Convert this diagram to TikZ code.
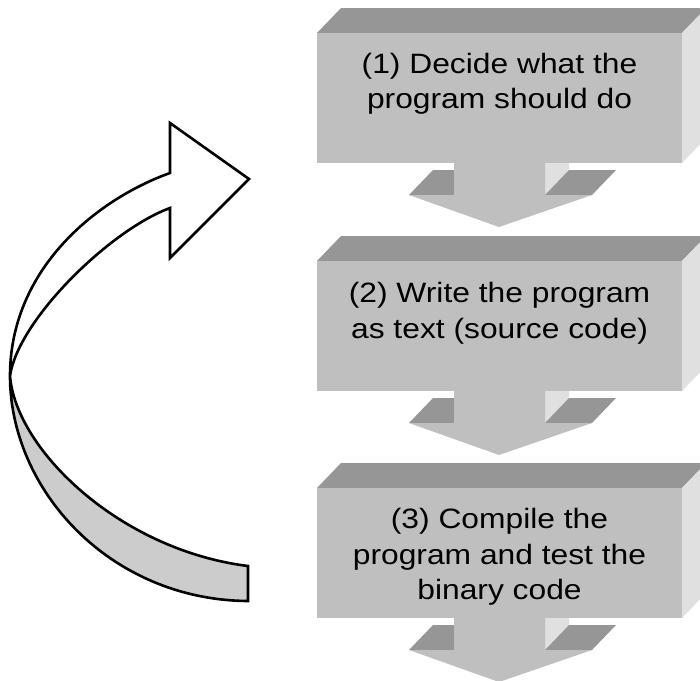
\documentclass[tikz,border=0pt]{standalone}
\usepackage{fontspec}
\setmainfont{Liberation Sans}
\definecolor{boxfront}{gray}{0.75}
\definecolor{boxtop}{gray}{0.59}
\definecolor{boxside}{gray}{0.88}
\definecolor{ribbonback}{gray}{0.80}
\tikzset{
  frontface/.style={fill=boxfront},
  topface/.style={fill=boxtop},
  sideface/.style={fill=boxside},
  % anchored at the baseline of the last line
  steplabel/.style={align=center, inner sep=0pt, anchor=base, xscale=1.135,
    font=\fontsize{28}{35.5}\selectfont},
  ribbon/.style={draw=black, line width=2.6pt, line join=miter},
}
% one 3-D step block with its down arrow; #1 = y of the front face top
\newcommand\stepblock[1]{%
  \pgfmathsetmacro\yt{#1}%
  \pgfmathsetmacro\ytb{#1-25}%
  \pgfmathsetmacro\yb{#1+130}%
  \pgfmathsetmacro\ybb{#1+105}%
  \pgfmathsetmacro\yw{#1+162}%
  \pgfmathsetmacro\ywb{#1+137}%
  \pgfmathsetmacro\yp{#1+194}%
  % hidden faces of the down arrow
  \fill[sideface] (545,\ybb) -- (569,\ybb) -- (569,\ywb) -- (545,\yw) -- cycle;
  \fill[topface] (409,\yw) -- (454,\yw) -- (478,\ywb) -- (433,\ywb) -- cycle;
  \fill[topface] (545,\yw) -- (592,\yw) -- (616,\ywb) -- (569,\ywb) -- cycle;
  % front of the down arrow
  \fill[frontface] (454,\ybb) -- (545,\ybb) -- (545,\yw) -- (592,\yw)
    -- (499,\yp) -- (409,\yw) -- (454,\yw) -- cycle;
  % the block
  \fill[topface] (317,\yt) -- (682,\yt) -- (706,\ytb) -- (341,\ytb) -- cycle;
  \fill[sideface] (682,\yt) -- (706,\ytb) -- (706,\ybb) -- (682,\yb) -- cycle;
  \fill[frontface] (317,\yt) rectangle (682,\yb);
}
\begin{document}
\begin{tikzpicture}[x=1pt, y=-1pt]
  \useasboundingbox (0,0) rectangle (700,680);
  \clip (0,0) rectangle (700,680);
  \fill[white] (0,0) rectangle (700,680);

  \stepblock{33}
  \stepblock{261}
  \stepblock{488}

  \node[steplabel] (s1) at (499.5,108.5) {(1) Decide what the\\program should do};
  \node[steplabel] (s2) at (499.5,338) {(2) Write the program\\as text (source code)};
  \node[steplabel] (s3) at (499.5,599.5) {(3) Compile the\\program and test the\\binary code};

  % looping ribbon arrow: back side first, then the front with its head
  \coordinate (X) at (10,376);
  \filldraw[ribbon, fill=ribbonback] (X)
    .. controls (16,450) and (120,550) .. (248,566)
    -- (248,601)
    .. controls (110,600) and (10,490) .. (X) -- cycle;
  \filldraw[ribbon, fill=white] (170,173)
    .. controls (95,200) and (10,270) .. (X)
    .. controls (18,320) and (110,230) .. (170,208)
    -- (170,258) -- (249,179) -- (170,123) -- cycle;
\end{tikzpicture}
\end{document}
